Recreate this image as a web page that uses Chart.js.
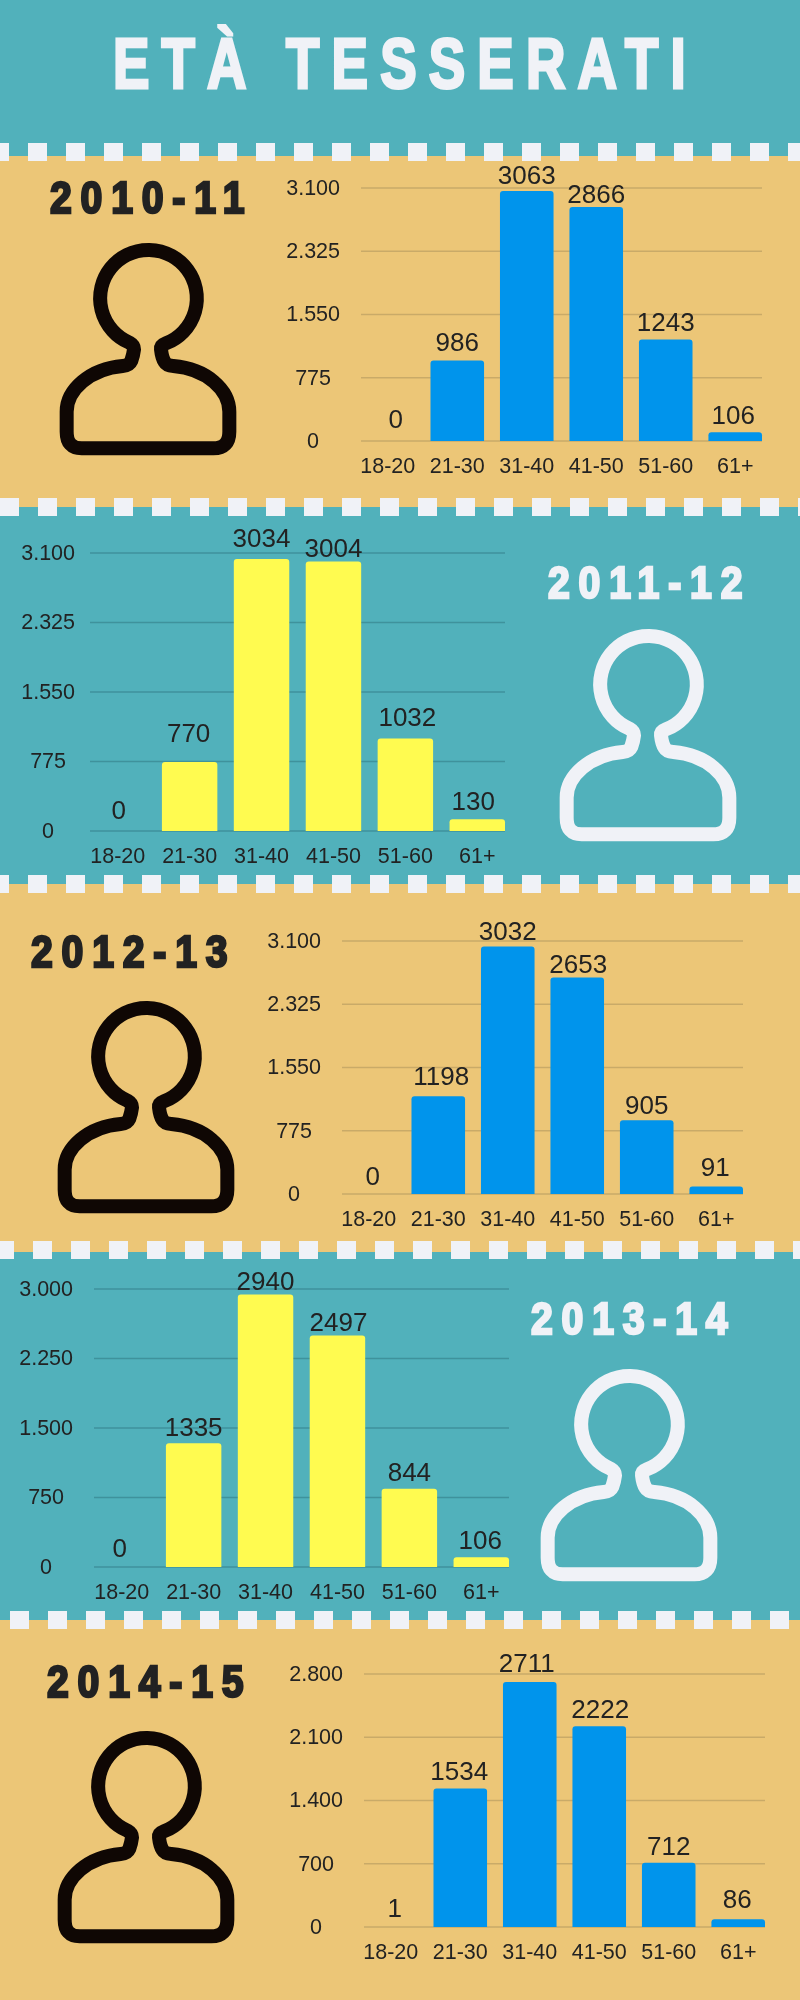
<!DOCTYPE html>
<html lang="it">
<head>
<meta charset="utf-8">
<title>Età tesserati</title>
<script src="https://cdn.jsdelivr.net/npm/chart.js@4/dist/chart.umd.min.js"></script>
<style>
  html, body { margin: 0; padding: 0; background: #ecc677; }
  #page { position: relative; width: 800px; height: 2000px; overflow: hidden; }
  .band, .tick, canvas, .year, svg, #title { position: absolute; }
  .tick { width: 19px; height: 18px; background: #f0f2f7; }
  #title {
    left: 113px; top: 24px; white-space: nowrap; color: #f0f2f7;
    font: bold 70px "Liberation Sans", sans-serif;
    letter-spacing: 15.6px; -webkit-text-stroke: 3px #f0f2f7;
    transform: scaleX(0.78); transform-origin: left top;
  }
  .year {
    white-space: nowrap;
    font: bold 43.5px "Liberation Sans", sans-serif;
    letter-spacing: 9.8px; -webkit-text-stroke: 2.5px currentColor;
    transform: scaleX(0.9); transform-origin: left top;
  }
</style>
</head>
<body>
<div id="page">
  <div id="title">ETÀ TESSERATI</div>
</div>
<script>
const TEAL = '#51b1bb';
const TAN = '#ecc677';
const WHITE = '#f0f2f7';
const INK = '#222222';
const FONT = '"Liberation Sans", Arial, sans-serif';

// Dati
const categories = ['18-20', '21-30', '31-40', '41-50', '51-60', '61+'];
const values2010 = [0, 986, 3063, 2866, 1243, 106];
const values2011 = [0, 770, 3034, 3004, 1032, 130];
const values2012 = [0, 1198, 3032, 2653, 905, 91];
const values2013 = [0, 1335, 2940, 2497, 844, 106];
const values2014 = [1, 1534, 2711, 2222, 712, 86];
const ticks3100 = ['0', '775', '1.550', '2.325', '3.100'];
const ticks3000 = ['0', '750', '1.500', '2.250', '3.000'];
const ticks2800 = ['0', '700', '1.400', '2.100', '2.800'];

// Etichette spostate a mano nell'originale: [dx, distanza dalla barra]
const nudge2010 = [[8, 13], [0, 10], [0, 7], [0, 4], [0, 9], [-2, 8]];
const nudge2011 = [[1, 12], [-1, 20], [0, 12], [0, 5], [2, 12], [-4, 9]];
const nudge2012 = [[4, 9], [3, 11], [0, 7], [1, 4], [0, 6], [-1, 11]];
const nudge2013 = [[-2, 10], [0, 7], [0, 5], [1, 5], [0, 8], [-1, 8]];
const nudge2014 = [[4, 10], [-1, 8], [-3, 10], [1, 8], [0, 8], [-1, 11]];

const panels = [
  { year: '2010-11', values: values2010, labels: ticks3100, nudge: nudge2010, max: 3100, bg: TAN, bar: '#0094ec', grid: '#c9aa68', text: INK, icon: '#0f0704',
    band: [156, 507], area: [361, 762, 188, 441], labelRight: 340, yearPos: [49.5, 174], iconPos: [40, 230] },
  { year: '2011-12', values: values2011, labels: ticks3100, nudge: nudge2011, max: 3100, bg: TEAL, bar: '#fffb50', grid: '#3f929c', text: INK, icon: WHITE,
    band: [507, 884], area: [90, 505, 553, 831], labelRight: 75, yearPos: [548, 559], iconPos: [540, 616] },
  { year: '2012-13', values: values2012, labels: ticks3100, nudge: nudge2012, max: 3100, bg: TAN, bar: '#0094ec', grid: '#c9aa68', text: INK, icon: '#0f0704',
    band: [884, 1252], area: [342, 743, 941, 1194], labelRight: 321, yearPos: [30.6, 927.6], iconPos: [38, 988] },
  { year: '2013-14', values: values2013, labels: ticks3000, nudge: nudge2013, max: 3000, bg: TEAL, bar: '#fffb50', grid: '#3f929c', text: INK, icon: WHITE,
    band: [1252, 1620], area: [94, 509, 1289, 1567], labelRight: 73, yearPos: [530.6, 1295], iconPos: [521, 1356] },
  { year: '2014-15', values: values2014, labels: ticks2800, nudge: nudge2014, max: 2800, bg: TAN, bar: '#0094ec', grid: '#c9aa68', text: INK, icon: '#0f0704',
    band: [1620, 2000], area: [364, 765, 1674, 1927], labelRight: 343, yearPos: [47.4, 1657.6], iconPos: [38, 1718] }
];

// Righe di quadratini: [y, primo x]
const tickRows = [[143, -10], [498, 0], [875, -10], [1241, -5], [1611, 10]];

const ICON_PATH = 'M268 338 A145 145 0 1 1 378 340 Q362 346 363 358 Q366 385 374 396 Q380 407 400 408 ' +
  'C500 416 568 480 568 545 L568 605 Q568 655 520 655 L125 655 Q80 655 80 605 L80 545 ' +
  'C80 480 150 416 248 408 Q268 406 274 392 Q280 375 282 358 Q282 346 268 338 Z';

const BAR_SHARE = 0.771;
const page = document.getElementById('page');

// Griglia disegnata solo tra il bordo della prima e dell'ultima barra
const gridPlugin = {
  id: 'shortGrid',
  beforeDatasetsDraw(chart, args, opts) {
    const bars = chart.getDatasetMeta(0).data;
    const left = bars[0].x - bars[0].width / 2;
    const right = bars[5].x + bars[5].width / 2;
    const y = chart.scales.y;
    const ctx = chart.ctx;
    ctx.save();
    ctx.strokeStyle = opts.color;
    ctx.lineWidth = 1.5;
    y.ticks.forEach((t, i) => {
      const py = y.getPixelForTick(i);
      ctx.beginPath();
      ctx.moveTo(left, py);
      ctx.lineTo(right, py);
      ctx.stroke();
    });
    ctx.restore();
  }
};

// Etichette dei valori sopra le barre
const valueLabels = {
  id: 'valueLabels',
  afterDatasetsDraw(chart, args, opts) {
    const ctx = chart.ctx;
    ctx.save();
    ctx.font = '26px ' + FONT;
    ctx.fillStyle = opts.color;
    ctx.textAlign = 'center';
    ctx.textBaseline = 'alphabetic';
    chart.getDatasetMeta(0).data.forEach((bar, i) => {
      const n = opts.nudge[i];
      ctx.fillText(String(chart.data.datasets[0].data[i]), bar.x + n[0], bar.y - n[1]);
    });
    ctx.restore();
  }
};

function addBand(p) {
  const band = document.createElement('div');
  band.className = 'band';
  band.style.cssText = `left:0;width:800px;top:${p.band[0]}px;height:${p.band[1] - p.band[0]}px;background:${p.bg}`;
  page.appendChild(band);
}

function addIcon(p) {
  const svg = document.createElementNS('http://www.w3.org/2000/svg', 'svg');
  svg.setAttribute('viewBox', '0 0 660 720');
  svg.setAttribute('width', 220);
  svg.setAttribute('height', 240);
  svg.style.left = p.iconPos[0] + 'px';
  svg.style.top = p.iconPos[1] + 'px';
  const path = document.createElementNS('http://www.w3.org/2000/svg', 'path');
  path.setAttribute('d', ICON_PATH);
  path.setAttribute('fill', 'none');
  path.setAttribute('stroke', p.icon);
  path.setAttribute('stroke-width', 42);
  svg.appendChild(path);
  page.appendChild(svg);
}

function addYear(p) {
  const el = document.createElement('div');
  el.className = 'year';
  el.textContent = p.year;
  el.style.left = p.yearPos[0] + 'px';
  el.style.top = p.yearPos[1] + 'px';
  el.style.color = p.icon === WHITE ? WHITE : INK;
  page.appendChild(el);
}

function addChart(p) {
  const [gridLeft, gridRight, top, bottom] = p.area;
  const height = p.band[1] - p.band[0];
  // area del grafico un po' piu larga della griglia: le barre arrivano ai bordi
  const full = (gridRight - gridLeft) / (1 - (1 - BAR_SHARE) / 6);
  const gap = (full - (gridRight - gridLeft)) / 2;
  const left = gridLeft - gap;

  const canvas = document.createElement('canvas');
  canvas.width = 800;
  canvas.height = height;
  canvas.style.left = '0';
  canvas.style.top = p.band[0] + 'px';
  page.appendChild(canvas);

  new Chart(canvas.getContext('2d'), {
    type: 'bar',
    data: {
      labels: categories,
      datasets: [{
        data: p.values,
        backgroundColor: p.bar,
        barPercentage: BAR_SHARE,
        categoryPercentage: 1,
        borderRadius: { topLeft: 3, topRight: 3 },
        borderSkipped: 'bottom'
      }]
    },
    options: {
      responsive: false,
      animation: false,
      layout: { padding: { left: 0, right: 800 - (left + full), top: top - p.band[0], bottom: 0 } },
      plugins: {
        legend: { display: false },
        tooltip: { enabled: false },
        shortGrid: { color: p.grid },
        valueLabels: { color: p.text, nudge: p.nudge }
      },
      scales: {
        x: {
          grid: { display: false, drawTicks: false },
          border: { display: false },
          ticks: { color: p.text, autoSkip: false, maxRotation: 0, padding: 13.5, font: { family: FONT, size: 21.5 } },
          afterFit(scale) { scale.height = height - (bottom - p.band[0]); }
        },
        y: {
          min: 0,
          max: p.max,
          grid: { display: false, drawTicks: false },
          border: { display: false },
          ticks: {
            stepSize: p.max / 4,
            color: p.text,
            padding: left - p.labelRight,
            labelOffset: 1,
            crossAlign: 'center',
            font: { family: FONT, size: 21.5 },
            callback: (v, i) => p.labels[i]
          },
          afterFit(scale) { scale.width = left; }
        }
      }
    },
    plugins: [gridPlugin, valueLabels]
  });
}

// Iniziare
panels.forEach(addBand);
tickRows.forEach(([y, start]) => {
  for (let x = start; x < 800; x += 38) {
    const t = document.createElement('div');
    t.className = 'tick';
    t.style.left = x + 'px';
    t.style.top = y + 'px';
    page.appendChild(t);
  }
});
page.appendChild(document.getElementById('title'));
panels.forEach(p => {
  addChart(p);
  addIcon(p);
  addYear(p);
});
page.style.background = TEAL;
</script>
</body>
</html>
